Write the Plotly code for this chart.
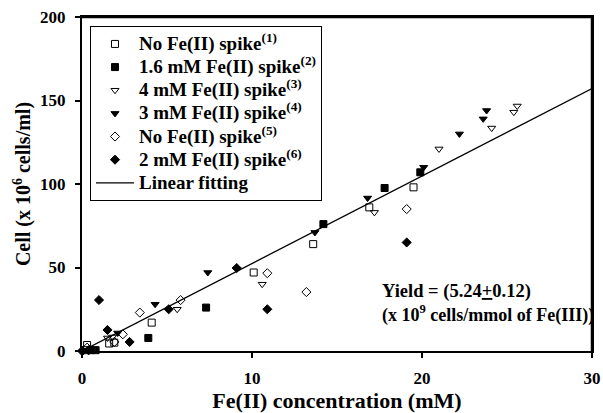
import plotly.graph_objects as go

# Data (x: Fe(II) mM, y: cells x10^6/ml)
s1_x = [0.2, 0.3, 1.6, 1.9, 4.1, 10.1, 13.6, 16.9, 19.5]
s1_y = [0.5, 3.6, 4.5, 5.0, 17, 47, 64, 86, 98]

s2_x = [0.5, 0.8, 3.9, 7.3, 14.2, 17.8, 19.9]
s2_y = [0.5, 0.5, 7.8, 26, 76, 97.6, 107]

s3_x = [0.3, 1.5, 1.8, 5.6, 10.6, 17.2, 21.0, 24.1, 25.4, 25.6]
s3_y = [0.5, 7.8, 8.4, 25, 40, 83, 121, 133.5, 143, 146.7]

s4_x = [0.1, 0.6, 2.1, 4.3, 7.4, 13.7, 16.8, 20.1, 22.2, 23.6, 23.8]
s4_y = [0.0, 0.5, 10.8, 28, 47, 71, 91.6, 110, 130, 139, 144]

s5_x = [0.3, 1.9, 2.4, 3.4, 5.8, 10.9, 13.2, 19.1]
s5_y = [2.0, 5.4, 10, 23, 30.5, 46.6, 35.3, 85]

s6_x = [0.0, 0.4, 1.0, 1.5, 2.8, 5.1, 9.1, 10.9, 19.1]
s6_y = [0.0, 0.5, 30.5, 12.6, 5.4, 25, 49.7, 25, 65]

fit_slope = 5.24
fit_x = [0, 30]
fit_y = [fit_slope * v for v in fit_x]

x_ticks = [0, 10, 20, 30]
y_ticks = [0, 50, 100, 150, 200]

names = [
    "No Fe(II) spike<sup>(1)</sup>",
    "1.6 mM Fe(II) spike<sup>(2)</sup>",
    "4 mM Fe(II) spike<sup>(3)</sup>",
    "3 mM Fe(II) spike<sup>(4)</sup>",
    "No Fe(II) spike<sup>(5)</sup>",
    "2 mM Fe(II) spike<sup>(6)</sup>",
]
symbols = ["square-open", "square", "triangle-down-open", "triangle-down",
           "diamond-open", "diamond"]
xs = [s1_x, s2_x, s3_x, s4_x, s5_x, s6_x]
ys = [s1_y, s2_y, s3_y, s4_y, s5_y, s6_y]

FONT = "Liberation Serif"


def leg(t):
    return '<span style="font-size:19px"><b>' + t + '</b></span>'


fig = go.Figure()
for n, sym, x, y in zip(names, symbols, xs, ys):
    fig.add_trace(go.Scatter(
        x=x, y=y, mode="markers", name=leg(n),
        marker=dict(symbol=sym, size=7, color="black",
                    line=dict(color="black", width=1)),
        cliponaxis=False,
    ))
fig.add_trace(go.Scatter(
    x=fit_x, y=fit_y, mode="lines", name=leg("Linear fitting"),
    line=dict(color="black", width=1.3),
))

fig.add_annotation(
    x=17.5, y=35.5, xref="x", yref="y", xanchor="left", yanchor="middle",
    align="left", showarrow=False,
    text="<b>Yield = (5.24<u>+</u>0.12)</b>",
    font=dict(family=FONT, size=18.5, color="black"),
)
fig.add_annotation(
    x=17.5, y=22.0, xref="x", yref="y", xanchor="left", yanchor="middle",
    align="left", showarrow=False,
    text="<b>(x 10<sup>9</sup> cells/mmol of Fe(III))</b>",
    font=dict(family=FONT, size=18, color="black"),
)

# plot frame (top and right sides)
fig.add_shape(type="line", xref="paper", yref="paper", x0=0, y0=1, x1=1, y1=1,
              line=dict(color="black", width=2.5), layer="above")
fig.add_shape(type="line", xref="paper", yref="paper", x0=1, y0=0, x1=1, y1=1,
              line=dict(color="black", width=2.5), layer="above")

fig.update_layout(
    width=603, height=413,
    margin=dict(l=82, r=11, t=17, b=62),
    paper_bgcolor="white", plot_bgcolor="white",
    font=dict(family=FONT, size=17, color="black"),
    showlegend=True,
    legend=dict(
        x=0.0157, y=0.972, xanchor="left", yanchor="top",
        bordercolor="black", borderwidth=1, bgcolor="white",
        font=dict(family=FONT, size=15.5, color="black"),
        itemwidth=38, tracegroupgap=0,
    ),
)
fig.update_xaxes(
    range=[0, 30], tickvals=x_ticks,
    ticktext=["<b>%d</b>" % v for v in x_ticks],
    ticks="outside", ticklen=5, tickwidth=1.5, tickcolor="black",
    ticklabelstandoff=6, automargin=False, ticklabeloverflow="allow",
    showline=True, linecolor="black", linewidth=2, mirror=True,
    showgrid=False, zeroline=False,
    tickfont=dict(family=FONT, size=17),
    title=dict(text="<b>Fe(II) concentration (mM)</b>",
               font=dict(family=FONT, size=22), standoff=10),
)
fig.update_yaxes(
    range=[0, 200], tickvals=y_ticks,
    ticktext=["<b>%d</b>" % v for v in y_ticks],
    ticks="outside", ticklen=5, tickwidth=1.5, tickcolor="black",
    ticklabelstandoff=6, automargin=False, ticklabeloverflow="allow",
    showline=True, linecolor="black", linewidth=2, mirror=True,
    showgrid=False, zeroline=False,
    tickfont=dict(family=FONT, size=17),
    title=dict(text="<b>Cell (x 10<sup>6</sup> cells/ml)</b>",
               font=dict(family=FONT, size=20), standoff=4),
)

fig.write_html(
    "out.html",
    config={"displayModeBar": False},
    post_script="document.body.style.margin='0';document.body.style.overflow='hidden';",
)
